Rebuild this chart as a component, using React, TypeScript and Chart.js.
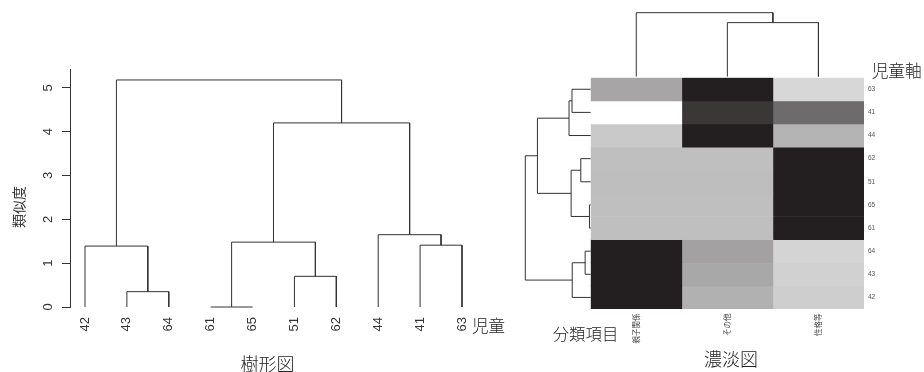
import React, { useEffect, useRef } from 'react';
import { Chart, registerables } from 'chart.js';

Chart.register(...registerables);

const W = 924;
const H = 372;

// ---- child dendrogram (樹形図) ----
const leafLabels = ['42', '43', '64', '61', '65', '51', '62', '44', '41', '63'];
// merge pairs: negative = leaf (-(index+1)), positive = earlier merge number (1-based)
const mergePairs: [number, number][] = [
  [-4, -5], [-2, -3], [-6, -7], [-1, 2], [-9, -10], [1, 3], [-8, 5], [6, 7], [4, 8],
];
const mergeHeights = [0.0, 0.35, 0.7, 1.39, 1.41, 1.48, 1.65, 4.2, 5.18];
const yTicks = [0, 1, 2, 3, 4, 5];

// ---- heatmap (濃淡図) ----
const colLabels = ['親子関係', 'その他', '性格等'];
const colMergePairs: [number, number][] = [[-2, -3], [-1, 1]];
const colMergeHeights = [4.35, 5.15];
// intensities 0 (white) .. 1 (black), rows in leafLabels order (bottom to top)
const oyakoValues = [1.0, 1.0, 1.0, 0.286, 0.286, 0.29, 0.286, 0.24, 0.0, 0.4];
const sonotaValues = [0.35, 0.39, 0.42, 0.286, 0.286, 0.29, 0.286, 1.0, 0.895, 1.0];
const seikakuValues = [0.22, 0.205, 0.19, 1.0, 1.0, 1.0, 1.0, 0.336, 0.66, 0.18];
const heatValues = [oyakoValues, sonotaValues, seikakuValues];

type Pt = { x: number; y: number };

function dendro(
  pairs: [number, number][],
  heights: number[],
  leafPos: (i: number) => number,
  leafBase: number,
  swap: boolean
): Pt[][] {
  const pos: number[] = [];
  const hgt: number[] = [];
  const segs: Pt[][] = [];
  const get = (k: number): [number, number] =>
    k < 0 ? [leafPos(-k - 1), leafBase] : [pos[k - 1], hgt[k - 1]];
  pairs.forEach(([a, b], i) => {
    const [pa, ha] = get(a);
    const [pb, hb] = get(b);
    const h = heights[i];
    pos.push((pa + pb) / 2);
    hgt.push(h);
    const pts: [number, number][] = [[pa, ha], [pa, h], [pb, h], [pb, hb]];
    segs.push(pts.map(([p, v]) => (swap ? { x: v, y: p } : { x: p, y: v })));
  });
  return segs;
}

function grayOf(t: number): string {
  const r = Math.round(255 - t * (255 - 35));
  const g = Math.round(255 - t * (255 - 31));
  const b = Math.round(255 - t * (255 - 32));
  return `rgb(${r},${g},${b})`;
}

const LINE = '#333';

function lineDatasets(segs: Pt[][]) {
  return segs.map((s) => ({
    data: s,
    showLine: true,
    borderColor: LINE,
    borderWidth: 1,
    pointRadius: 0,
    fill: false,
    tension: 0,
    clip: false as const,
  }));
}

const baseOpts = {
  responsive: false,
  maintainAspectRatio: false,
  animation: false as const,
  events: [] as any[],
  plugins: { legend: { display: false }, tooltip: { enabled: false }, title: { display: false } },
};

function makeLeft(canvas: HTMLCanvasElement) {
  const segs = dendro(mergePairs, mergeHeights, (i) => i + 1, 0, false);
  return new Chart(canvas, {
    type: 'scatter',
    data: { datasets: lineDatasets(segs) as any },
    options: {
      ...baseOpts,
      layout: { padding: { left: 0, top: 69, right: 444, bottom: H - 307 } },
      scales: {
        x: { type: 'linear', min: 0.642, max: 10.43, display: false },
        y: {
          type: 'linear',
          min: 0,
          max: 5.43,
          afterBuildTicks: (s: any) => {
            s.ticks = yTicks.map((v) => ({ value: v }));
          },
          afterFit: (s: any) => {
            s.width = 70;
          },
          ticks: { display: false },
          grid: { drawOnChartArea: false, drawTicks: true, tickLength: 8, color: LINE },
          border: { display: true, color: LINE, width: 1 },
        },
      },
    } as any,
    plugins: [
      {
        id: 'leftLabels',
        afterDraw(chart: any) {
          const ctx = chart.ctx as CanvasRenderingContext2D;
          const xs = chart.scales.x;
          const ys = chart.scales.y;
          ctx.save();
          ctx.fillStyle = '#333';
          ctx.font = '13px "Liberation Sans", Arial, sans-serif';
          ctx.textBaseline = 'middle';
          yTicks.forEach((v) => {
            ctx.save();
            ctx.translate(48, ys.getPixelForValue(v));
            ctx.rotate(-Math.PI / 2);
            ctx.textAlign = 'center';
            ctx.fillText(String(v), 0, 0);
            ctx.restore();
          });
          leafLabels.forEach((lab, i) => {
            ctx.save();
            ctx.translate(xs.getPixelForValue(i + 1), 317);
            ctx.rotate(-Math.PI / 2);
            ctx.textAlign = 'right';
            ctx.fillText(lab, 0, 0);
            ctx.restore();
          });
          ctx.restore();
        },
      },
    ],
  });
}

function makeRowDendro(canvas: HTMLCanvasElement) {
  const segs = dendro(mergePairs, mergeHeights, (i) => i, -0.1, true);
  return new Chart(canvas, {
    type: 'scatter',
    data: { datasets: lineDatasets(segs) as any },
    options: {
      ...baseOpts,
      layout: { padding: { left: 525.3, top: 77.7, right: W - 590.7, bottom: H - 309 } },
      scales: {
        x: { type: 'linear', reverse: true, min: -0.1, max: 5.18, display: false },
        y: { type: 'linear', min: -0.5, max: 9.5, display: false },
      },
    } as any,
  });
}

function makeColDendro(canvas: HTMLCanvasElement) {
  const segs = dendro(colMergePairs, colMergeHeights, (i) => i + 0.5, 0, false);
  return new Chart(canvas, {
    type: 'scatter',
    data: { datasets: lineDatasets(segs) as any },
    options: {
      ...baseOpts,
      layout: { padding: { left: 590.7, top: 12.7, right: W - 864, bottom: H - 76.5 } },
      scales: {
        x: { type: 'linear', min: 0, max: 3, display: false },
        y: { type: 'linear', min: 0, max: 5.15, display: false },
      },
    } as any,
  });
}

function makeHeat(canvas: HTMLCanvasElement) {
  return new Chart(canvas, {
    type: 'bar',
    data: {
      labels: leafLabels,
      datasets: heatValues.map((vals, c) => ({
        data: leafLabels.map(() => [c, c + 1]),
        backgroundColor: vals.map(grayOf),
        borderWidth: 0,
        grouped: false,
        barPercentage: 1,
        categoryPercentage: 1,
      })) as any,
    },
    options: {
      ...baseOpts,
      indexAxis: 'y',
      layout: { padding: { left: 590.7, top: 77.7, right: W - 864, bottom: H - 309 } },
      scales: {
        x: { type: 'linear', min: 0, max: 3, display: false },
        y: { type: 'category', reverse: true, display: false },
      },
    } as any,
    plugins: [
      {
        id: 'heatLabels',
        afterDraw(chart: any) {
          const ctx = chart.ctx as CanvasRenderingContext2D;
          const xs = chart.scales.x;
          const ys = chart.scales.y;
          const area = chart.chartArea;
          ctx.save();
          ctx.fillStyle = '#555';
          ctx.font = '6.5px "Liberation Sans", Arial, sans-serif';
          ctx.textBaseline = 'middle';
          ctx.textAlign = 'left';
          leafLabels.forEach((lab, r) => {
            ctx.fillText(lab, area.right + 4, ys.getPixelForValue(r));
          });
          ctx.fillStyle = '#444';
          ctx.font = '7.5px "Noto Sans CJK JP", sans-serif';
          colLabels.forEach((lab, c) => {
            ctx.save();
            ctx.translate(xs.getPixelForValue(c + 0.5), area.bottom + 4.5);
            ctx.rotate(-Math.PI / 2);
            ctx.textAlign = 'right';
            ctx.fillText(lab, 0, 0);
            ctx.restore();
          });
          ctx.restore();
        },
      },
    ],
  });
}

const canvasStyle: React.CSSProperties = {
  position: 'absolute',
  left: 0,
  top: 0,
  width: W,
  height: H,
};

const serifFont = '"Noto Sans CJK JP", sans-serif';

function Label(props: {
  text: string;
  cx: number;
  cy: number;
  size: number;
  rotate?: boolean;
  weight?: number;
  color?: string;
}) {
  return (
    <div
      style={{
        position: 'absolute',
        left: props.cx,
        top: props.cy,
        transform: `translate(-50%, -50%)${props.rotate ? ' rotate(-90deg)' : ''}`,
        fontFamily: serifFont,
        fontSize: props.size,
        fontWeight: props.weight ?? 300,
        lineHeight: 1,
        whiteSpace: 'nowrap',
        color: props.color ?? '#222',
      }}
    >
      {props.text}
    </div>
  );
}

export default function App() {
  const r1 = useRef<HTMLCanvasElement>(null);
  const r2 = useRef<HTMLCanvasElement>(null);
  const r3 = useRef<HTMLCanvasElement>(null);
  const r4 = useRef<HTMLCanvasElement>(null);

  useEffect(() => {
    const charts: Chart[] = [];
    if (r1.current) charts.push(makeLeft(r1.current));
    if (r2.current) charts.push(makeHeat(r2.current));
    if (r3.current) charts.push(makeRowDendro(r3.current));
    if (r4.current) charts.push(makeColDendro(r4.current));
    return () => charts.forEach((c) => c.destroy());
  }, []);

  return (
    <div
      style={{
        position: 'absolute',
        left: 0,
        top: 0,
        width: W,
        height: H,
        background: '#fff',
        overflow: 'hidden',
      }}
    >
      <canvas ref={r1} width={W} height={H} style={canvasStyle} />
      <canvas ref={r2} width={W} height={H} style={canvasStyle} />
      <canvas ref={r3} width={W} height={H} style={canvasStyle} />
      <canvas ref={r4} width={W} height={H} style={canvasStyle} />
      <Label text="類似度" cx={17.5} cy={207} size={14} rotate weight={400} color="#333" />
      <Label text="樹形図" cx={267.5} cy={362.5} size={18} />
      <Label text="児童" cx={488.5} cy={325} size={16.5} />
      <Label text="分類項目" cx={585.5} cy={332.5} size={16.4} />
      <Label text="濃淡図" cx={731} cy={358} size={18} />
      <Label text="児童軸" cx={896.7} cy={70} size={16.7} />
    </div>
  );
}
